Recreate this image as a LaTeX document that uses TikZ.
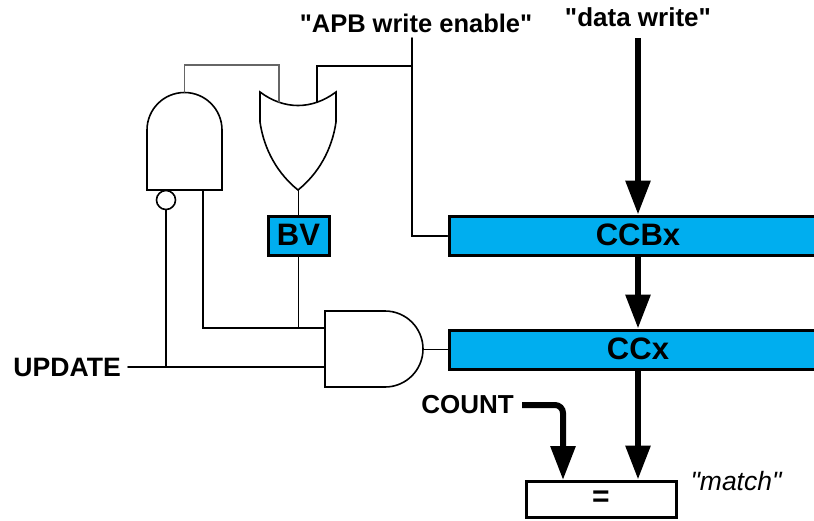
\documentclass[tikz,border=0pt]{standalone}
\usepackage{fontspec}
\setmainfont{Liberation Sans}[Ligatures=TeXOff]
\usetikzlibrary{arrows.meta,positioning}
\definecolor{regblue}{RGB}{0,174,239}
\tikzset{
  wire/.style={line width=1.6pt,line cap=round,line join=miter},
  bus/.style={line width=6pt,-{Triangle[width=24pt,length=34pt]}},
  gate/.style={line width=1.6pt,fill=white},
  reg/.style={draw,line width=3pt,fill=regblue,font=\bfseries\fontsize{31}{31}\selectfont,inner sep=0pt},
  lbl/.style={font=\bfseries\fontsize{26}{26}\selectfont,inner sep=0pt}
}
\newcommand\Lift[1]{\raisebox{2pt}{#1}}
\begin{document}
\begin{tikzpicture}[x=1pt,y=-1pt]
\useasboundingbox (0,0) rectangle (814,520);
% registers
\node[reg,minimum width=378pt,minimum height=39pt] (ccbx) at (638,235.5) {\Lift{CCBx}};
\node[reg,minimum width=378pt,minimum height=39pt] (ccx) at (638,349.5) {\Lift{CCx}};
\node[reg,minimum width=61pt,minimum height=39pt] (bv) at (298.5,235.5) {\Lift{BV}};
\node[draw,line width=3pt,minimum width=150pt,minimum height=36pt,inner sep=0pt,font=\bfseries\fontsize{30}{30}\selectfont] (eqbox) at (601,499) {=};
% labels
\node[lbl,font=\bfseries\fontsize{25.5}{26}\selectfont] (apb) at (416,23) {"APB write enable"};
\node[lbl] (datawr) at (638,17) {"data write"};
\node[lbl,anchor=east,font=\bfseries\fontsize{26.6}{26}\selectfont] (update) at (121,367) {UPDATE};
\node[lbl,anchor=east] (count) at (514,405) {COUNT};
\node[font=\itshape\fontsize{26.5}{26}\selectfont,inner sep=0pt] (match) at (736,481) {"match"};
% gates
\draw[gate] (147,190) -- (147,130) arc (180:360:37.5) -- (222,190) -- cycle;
\draw[gate] (260,92) .. controls (284,110) and (312,110) .. (336,92)
  -- (336,122) .. controls (332,150) and (318,174) .. (298,190)
  .. controls (278,174) and (264,150) .. (260,122) -- cycle;
\draw[gate] (325,311) -- (385,311) arc (-90:90:38) -- (325,387) -- cycle;
\node[draw,circle,line width=1.6pt,minimum size=19pt,inner sep=0pt] (bubble) at (166,200) {};
% gate pins
\coordinate (andtop) at (184.5,92);
\coordinate (orleft) at (279,102);
\coordinate (orright) at (317,102);
\coordinate (ortip) at (298.5,190);
\coordinate (andb) at (203,190);
\coordinate (andin1) at (325,328);
\coordinate (andin2) at (325,367);
\coordinate (andout) at (423,349.5);
\coordinate (apbend) at (412,38);
% wires
\draw[wire,black!60] (andtop) -- (184.5,65) -| (orleft);
\draw[wire] (orright) |- (412,66);
\draw[wire] (apbend) -- (412,236) -- (ccbx.west |- 0,236);
\draw[wire] (ortip) -- (bv.north);
\draw[wire] (bv.south) -- (bv.south |- andin1);
\draw[wire] (andb) |- (andin1);
\draw[wire,shorten <=7pt] (update) -- (andin2);
\draw[wire] (bubble.south) -- (bubble.south |- andin2);
\draw[wire] (andout) -- (ccx.west);
% buses
\coordinate (datatop) at (638,38);
\draw[bus] (datatop) -- (ccbx.north);
\draw[bus] (ccbx.south) -- (ccx.north);
\draw[bus] (ccx.south) -- (ccx.south |- eqbox.north);
\draw[bus,rounded corners=8pt] (count.east) ++(8,0) -| (563,480);
\end{tikzpicture}
\end{document}
